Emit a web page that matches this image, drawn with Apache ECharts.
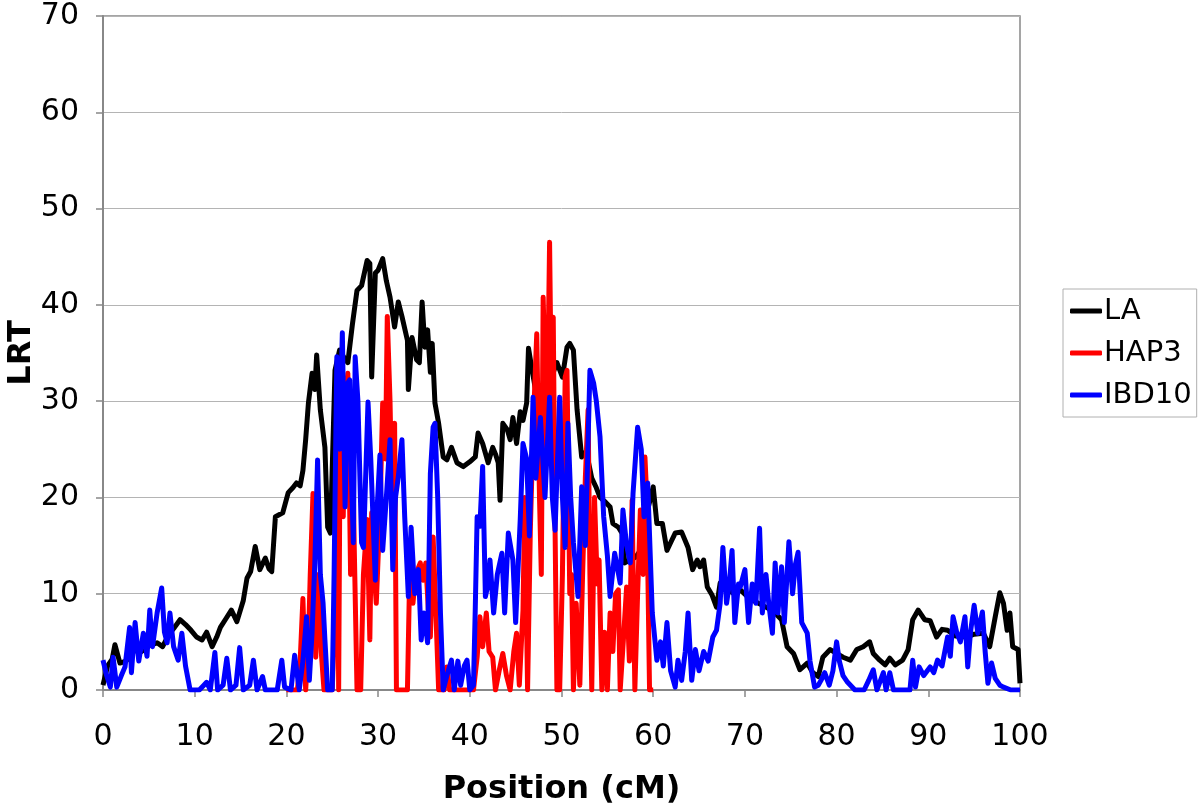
<!DOCTYPE html>
<html>
<head>
<meta charset="utf-8">
<script src="https://cdn.jsdelivr.net/npm/echarts@6/dist/echarts.min.js"></script>
<style>html,body{margin:0;padding:0;background:#fff}#c{width:1200px;height:807px}</style>
</head>
<body>
<div id="c"></div>
<script>
const seriesNames = ['LA', 'HAP3', 'IBD10'];
const xTicks = [0,10,20,30,40,50,60,70,80,90,100];
const yTicks = [0,10,20,30,40,50,60,70];

const LA = [[0,0.5],[0.5,2.5],[1.0,3.2],[1.3,4.7],[1.85,2.8],[2.5,3.0],[2.9,3.4],[3.5,4.2],[4.2,4.0],[5.0,4.6],[5.9,4.9],[6.5,4.5],[7.2,5.8],[7.8,6.5],[8.4,7.3],[9.0,6.8],[9.6,6.2],[10.2,5.5],[10.8,5.2],[11.3,6.0],[11.9,4.5],[12.4,5.5],[12.8,6.5],[13.4,7.4],[14.0,8.3],[14.6,7.1],[15.3,9.3],[15.7,11.6],[16.1,12.3],[16.6,14.9],[17.1,12.5],[17.7,13.7],[18.1,12.6],[18.4,12.3],[18.8,18.0],[19.2,18.2],[19.6,18.4],[20.2,20.5],[20.7,21.0],[21.1,21.5],[21.5,21.2],[21.8,22.8],[22.1,26],[22.4,29.8],[22.8,32.9],[23.1,31.2],[23.3,34.8],[23.7,29.1],[24.2,25.2],[24.5,16.9],[24.8,16.3],[25.3,33.2],[25.8,35.3],[26.3,34.5],[26.7,34.0],[27.2,38],[27.7,41.5],[28.2,42],[28.8,44.6],[29.1,44.3],[29.3,32.5],[29.7,43.3],[30.0,43.6],[30.5,44.8],[30.9,42.5],[31.3,40.8],[31.8,37.7],[32.2,40.3],[32.6,38.8],[33.2,36.3],[33.3,31.2],[33.7,36.6],[34.2,34.3],[34.5,34.0],[34.8,40.3],[35.1,35.6],[35.4,37.4],[35.7,33.0],[35.9,36.0],[36.2,29.8],[36.6,27.7],[37.1,24.2],[37.5,23.9],[38.0,25.2],[38.6,23.6],[39.3,23.2],[40.0,23.7],[40.6,24.2],[40.9,26.7],[41.4,25.6],[42.0,23.6],[42.5,25.2],[42.8,24.5],[43.1,23.6],[43.3,19.7],[43.6,27.7],[44.1,27.0],[44.4,26.0],[44.7,28.3],[45.1,25.6],[45.5,28.9],[45.8,28.0],[46.2,29.8],[46.4,35.5],[46.8,33.2],[47.2,31],[47.7,30.5],[48.2,32],[48.7,31.5],[49.1,33],[49.5,34],[50.1,32.5],[50.6,35.6],[50.9,36.0],[51.3,35.3],[51.7,29.1],[52.2,24.2],[52.7,24.8],[53.3,22],[53.8,21],[54.2,20.0],[54.8,19.5],[55.3,19.0],[55.6,17.3],[56.2,16.9],[56.6,16.3],[56.9,13.2],[57.5,13.5],[58.1,13.8],[58.6,14.5],[59.0,16],[59.4,18.7],[60.0,21.1],[60.4,17.3],[61.0,17.3],[61.5,14.5],[62.0,15.5],[62.4,16.3],[63.1,16.4],[63.8,14.8],[64.3,12.5],[64.8,13.5],[65.1,12.8],[65.5,13.5],[65.9,10.7],[66.4,9.9],[66.9,8.6],[67.3,11.1],[68,10.5],[68.8,10],[69.5,10.4],[70.5,9.5],[71.5,9],[72.5,8.5],[73.3,8],[74.0,7.3],[74.6,4.5],[75.3,3.8],[76.0,2.1],[76.8,2.8],[77.4,1.8],[78.0,1.4],[78.5,3.4],[79.3,4.2],[80.0,3.8],[80.7,3.4],[81.5,3.1],[82.2,4.2],[82.9,4.5],[83.6,5.0],[84.0,3.8],[84.7,3.1],[85.3,2.6],[85.8,3.3],[86.4,2.6],[87.2,3.1],[87.8,4.2],[88.3,7.3],[88.9,8.3],[89.6,7.3],[90.2,7.2],[90.9,5.5],[91.5,6.3],[92.1,6.2],[93,5.6],[94.2,5.5],[95,5.8],[96.0,5.9],[96.7,4.5],[97.3,7.6],[97.8,10.1],[98.2,9.0],[98.6,6.2],[98.9,8.0],[99.2,4.5],[99.8,4.2],[100,0.7]];

const HAP3 = [[20,0],[21.2,0],[21.5,3],[21.8,9.5],[22.1,0],[22.4,5],[22.6,12],[22.9,20.4],[23.2,3.4],[23.5,12],[23.8,4],[24.1,0],[25.0,0],[25.3,8],[25.5,30.4],[25.7,0],[25.9,33.9],[26.2,18],[26.4,30],[26.7,32.9],[27.0,12],[27.2,26.3],[27.4,14.8],[27.7,0],[28.1,0],[28.4,12],[28.8,17.7],[29.1,5.2],[29.3,18.4],[29.5,13.2],[29.8,9],[30.2,18.4],[30.5,29.8],[30.8,24],[31.0,38.8],[31.3,30],[31.6,15.3],[31.8,27.7],[32.0,0],[33.2,0],[33.5,14.8],[33.8,9],[34.1,12],[34.6,13.2],[34.9,11.4],[35.2,13.2],[35.5,8],[35.7,5.5],[36.0,15.9],[36.3,8],[36.6,0],[37.2,0],[37.5,2.4],[37.8,0],[40.4,0],[40.8,3.4],[41.1,7.6],[41.4,4.5],[41.8,8],[42.1,4],[42.5,3.4],[42.8,0],[43.2,2],[43.6,3.8],[44.0,1.5],[44.4,0],[44.8,4],[45.1,5.9],[45.4,0.5],[45.8,8.3],[46.0,20],[46.3,0],[46.6,16.6],[46.9,27],[47.3,37],[47.6,20],[47.8,12],[48.0,40.8],[48.2,41],[48.4,25],[48.7,46.5],[48.9,30],[49.1,38.7],[49.3,16.6],[49.5,0],[49.8,0],[50.1,12],[50.4,32.5],[50.6,33.2],[50.9,10],[51.1,12],[51.3,0],[51.6,9],[52.0,0.5],[52.3,12],[52.6,22],[52.9,29.1],[53.1,12],[53.3,0],[53.6,20],[53.9,11],[54.1,13.5],[54.4,0],[54.7,6],[55.0,0],[55.3,8],[55.6,4],[55.9,10],[56.2,10.4],[56.4,0],[56.8,6],[57.1,10.7],[57.4,3],[57.7,19.7],[58.0,0],[58.3,10],[58.6,18.7],[58.9,12],[59.1,24.2],[59.3,20],[59.6,0],[60,0]];

const IBD10 = [[0,3.1],[0.4,1.5],[0.8,0.3],[1.1,3.4],[1.5,0.3],[2.0,1.5],[2.4,2.4],[2.9,6.5],[3.1,1.8],[3.5,7.0],[3.9,3],[4.4,5.9],[4.8,3.5],[5.1,8.3],[5.4,4.5],[5.9,8.0],[6.4,10.6],[6.7,6],[7.0,4.9],[7.3,8.0],[7.7,4.5],[8.2,3.1],[8.6,5.9],[9.0,2.5],[9.5,0],[10.5,0],[11.0,0.5],[11.3,0.8],[11.7,0],[12.2,3.9],[12.5,0],[13.1,0.5],[13.5,3.3],[13.9,0],[14.5,0.5],[14.9,4.4],[15.3,0],[16.0,0.5],[16.4,3.1],[16.8,0],[17.4,1.4],[17.7,0],[19.0,0],[19.5,3.1],[19.8,0.3],[20.5,0],[20.9,3.6],[21.1,3.4],[21.4,0],[21.8,3],[22.2,7.6],[22.5,1],[22.8,6],[23.1,13.2],[23.4,23.9],[23.7,12],[24.0,9],[24.2,5.2],[24.5,0],[25.0,0],[25.2,12],[25.5,34.6],[25.8,25],[26.1,37.1],[26.4,19],[26.7,31.9],[26.9,32.2],[27.1,22],[27.3,15.3],[27.5,34.6],[27.8,30],[28.2,15.3],[28.4,14.8],[28.9,29.9],[29.2,24],[29.7,11.4],[29.9,19],[30.2,24.4],[30.5,14.5],[30.9,20],[31.3,26],[31.6,12.5],[31.9,20],[32.2,22.1],[32.6,26],[32.9,18],[33.3,9.7],[33.6,16.9],[34.0,10],[34.4,12.5],[34.7,5.2],[35.0,8],[35.4,4.9],[35.7,22.5],[36.0,27.3],[36.2,27.7],[36.5,20],[36.8,8],[37.1,0],[37.5,1.5],[38.0,3.1],[38.3,0],[38.7,3],[39.0,0.5],[39.4,2.5],[39.7,3.1],[40.0,0],[40.4,0.5],[40.6,8.6],[40.8,18],[41.1,17],[41.4,23.2],[41.7,9.7],[42.0,11],[42.2,13.5],[42.6,8],[43.0,12],[43.5,14.2],[43.8,8],[44.2,16.3],[44.7,13.5],[45.0,7],[45.5,17.7],[45.8,25.6],[46.2,24],[46.5,16],[46.9,30.4],[47.2,22],[47.7,28.3],[48.2,20],[48.7,30.4],[49.0,20],[49.3,16.6],[49.8,30.4],[50.1,20],[50.4,14.8],[50.7,27.7],[51.0,20],[51.3,15.3],[51.8,9.7],[52.2,21.1],[52.6,15],[53.1,33.2],[53.5,31.9],[53.8,30],[54.2,26.3],[54.6,18],[55.0,14],[55.3,9.7],[55.8,14.2],[56.4,11.1],[56.7,18.7],[57.1,15],[57.5,13.2],[57.8,20.4],[58.3,27.3],[58.7,25],[59.0,18],[59.4,21.5],[59.9,8],[60.4,3.1],[60.8,5],[61.1,2.5],[61.5,7.0],[61.9,2],[62.4,0.3],[62.7,3.1],[63.1,1],[63.5,4],[63.8,8],[64.2,1],[64.6,4.2],[65.0,2],[65.5,4],[66.0,3],[66.5,5.5],[66.9,6.2],[67.3,9],[67.6,14.8],[68.0,9],[68.3,11],[68.6,14.5],[68.9,7],[69.3,11],[69.5,10.7],[70.0,12.5],[70.4,7],[70.8,11],[71.2,9],[71.6,16.8],[71.9,8],[72.3,12],[72.6,9],[73.0,5.9],[73.3,13.2],[73.6,8],[74.0,12.8],[74.3,7],[74.8,15.4],[75.2,10],[75.5,13],[75.8,14.3],[76.2,7],[76.8,5.9],[77.1,3],[77.6,0.3],[78.0,0.5],[78.3,1],[78.7,1.8],[79.2,0.5],[79.6,2],[80.0,5],[80.3,3],[80.7,1.5],[81.2,0.8],[82.0,0],[83.0,0],[83.5,1],[84.0,2.1],[84.4,0],[85.1,1.8],[85.4,0],[85.8,1.8],[86.2,0],[88.0,0],[88.3,3.1],[88.6,0.3],[89.0,2.4],[89.5,1.5],[90.2,2.4],[90.6,1.8],[91.0,3.1],[91.5,2.5],[92.1,5.5],[92.4,3.5],[92.7,7.6],[93.1,6],[93.5,5],[94.0,7.6],[94.3,2.4],[94.6,6],[95.0,8.8],[95.4,5.9],[95.9,8.1],[96.2,4],[96.5,0.7],[96.9,2.8],[97.3,1.2],[97.8,0.5],[98.2,0.3],[99,0],[100,0]];

const colors = ['#000000', '#ff0000', '#0000ff'];
const FONT = "'DejaVu Sans', Verdana, sans-serif";

const chart = echarts.init(document.getElementById('c'), null, {renderer: 'canvas'});
chart.setOption({
  animation: false,
  backgroundColor: '#ffffff',
  grid: {left: 103, right: 180, top: 16, bottom: 117, containLabel: false, outerBoundsMode: 'none',
         show: true, borderColor: '#888888', borderWidth: 1.5, backgroundColor: 'transparent'},
  legend: {
    data: seriesNames,
    orient: 'vertical',
    left: 1063, top: 289,
    padding: [6, 5, 6, 7],
    itemGap: 10,
    itemWidth: 32, itemHeight: 5,
    icon: 'roundRect',
    borderColor: '#b0b0b0', borderWidth: 1,
    backgroundColor: '#ffffff',
    textStyle: {fontFamily: FONT, fontSize: 29, color: '#000', lineHeight: 32, padding: [0,0,0,-3]}
  },
  xAxis: {
    type: 'value', min: 0, max: 100, interval: 10,
    name: 'Position (cM)', nameLocation: 'middle', nameGap: 84, nameMoveOverlap: false,
    nameTextStyle: {fontFamily: FONT, fontSize: 32, fontWeight: 'bold', color: '#000'},
    axisLine: {show: true, lineStyle: {color: '#888888', width: 2}},
    axisTick: {show: true, length: 7, lineStyle: {color: '#888888', width: 1.5}},
    axisLabel: {fontFamily: FONT, fontSize: 30, color: '#000', margin: 32},
    splitLine: {show: false}
  },
  yAxis: {
    type: 'value', min: 0, max: 70, interval: 10,
    name: 'LRT', nameLocation: 'middle', nameGap: 65, nameRotate: 90, nameMoveOverlap: false,
    nameTextStyle: {fontFamily: FONT, fontSize: 32, fontWeight: 'bold', color: '#000'},
    axisLine: {show: true, lineStyle: {color: '#888888', width: 2}},
    axisTick: {show: true, length: 7, lineStyle: {color: '#888888', width: 1.5}},
    axisLabel: {fontFamily: FONT, fontSize: 30, color: '#000', margin: 24},
    splitLine: {show: true, lineStyle: {color: '#b4b4b4', width: 1}}
  },
  series: [
    {name: 'LA', type: 'line', data: LA, showSymbol: false, symbol: 'none', lineStyle: {color: colors[0], width: 5, join: 'round'}, itemStyle: {color: colors[0]}, z: 2},
    {name: 'HAP3', type: 'line', data: HAP3, showSymbol: false, symbol: 'none', lineStyle: {color: colors[1], width: 5, join: 'round'}, itemStyle: {color: colors[1]}, z: 3},
    {name: 'IBD10', type: 'line', data: IBD10, showSymbol: false, symbol: 'none', lineStyle: {color: colors[2], width: 5, join: 'round'}, itemStyle: {color: colors[2]}, z: 4}
  ]
});
</script>
</body>
</html>
